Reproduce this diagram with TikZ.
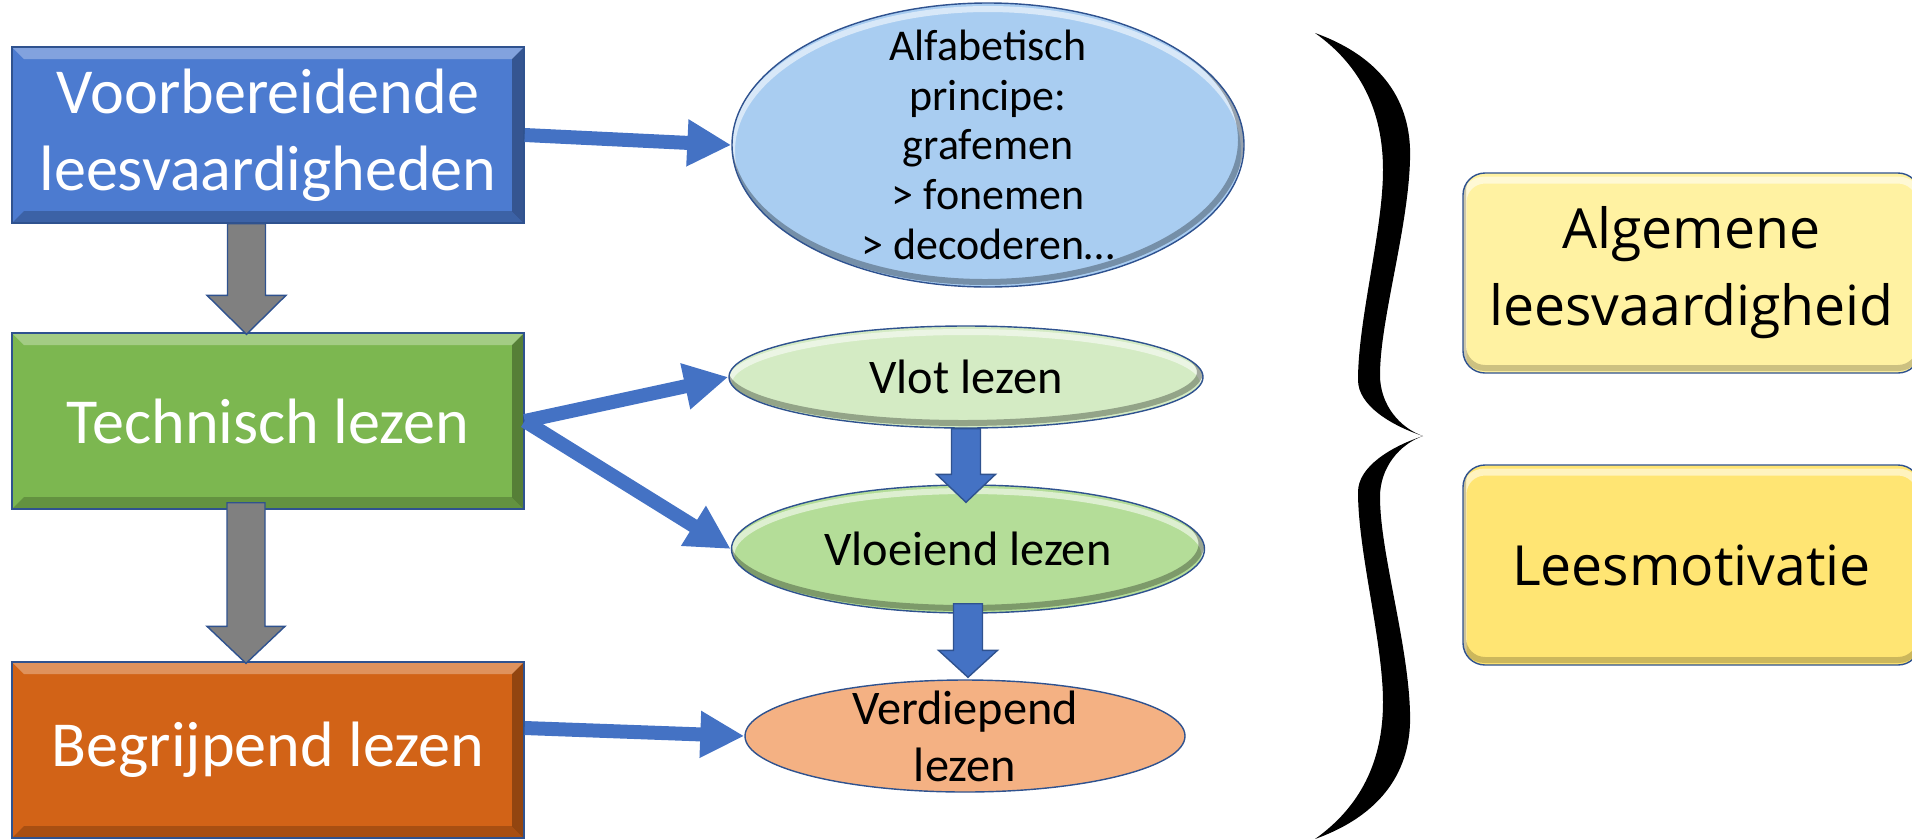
\documentclass[tikz,border=0pt]{standalone}
\usepackage{fontspec}
\setmainfont{Carlito}
\newfontfamily\motfont{Open Sans}
\usetikzlibrary{shapes.geometric,arrows.meta,calc}

\definecolor{edgeblue}{HTML}{2F528F}
\definecolor{linkblue}{HTML}{4472C4}
\definecolor{voorblue}{HTML}{4C7BD0}
\definecolor{techgreen}{HTML}{7CB750}
\definecolor{begrorange}{HTML}{D26317}
\definecolor{alfafill}{HTML}{A9CDF1}
\definecolor{vlotfill}{HTML}{D4EBC4}
\definecolor{vloeifill}{HTML}{B4DD98}
\definecolor{verdfill}{HTML}{F4B183}
\definecolor{algfill}{HTML}{FFF2A2}
\definecolor{motfill}{HTML}{FFE573}

% block arrow pointing down: style, from, to, half shaft, half head, head length
\newcommand{\blockarr}[6]{%
  \path[#1] let \p1=(#2), \p2=(#3) in
    (\x1-#4,\y1) -- (\x1-#4,\y2+#6) -- (\x1-#5,\y2+#6) -- (\x1,\y2)
    -- (\x1+#5,\y2+#6) -- (\x1+#4,\y2+#6) -- (\x1+#4,\y1) -- cycle;}
% several lines inside an oval, without growing the oval
\newcommand{\ovaltext}[2]{\smash{\raisebox{#1}{\begin{tabular}{@{}c@{}}#2\end{tabular}}}}

\begin{document}
\begin{tikzpicture}
    \tikzstyle{boxbevel}=[path picture={
      \fill[white,opacity=.3] (path picture bounding box.north west) -- (path picture bounding box.north east)
        -- ([shift={(-0.24,-0.24)}]path picture bounding box.north east) -- ([shift={(0.24,-0.24)}]path picture bounding box.north west) -- cycle;
      \fill[black,opacity=.3] (path picture bounding box.north east) -- (path picture bounding box.south east)
        -- ([shift={(-0.24,0.24)}]path picture bounding box.south east) -- ([shift={(-0.24,-0.24)}]path picture bounding box.north east) -- cycle;
      \fill[black,opacity=.2] (path picture bounding box.south west) -- ([shift={(0.24,0.24)}]path picture bounding box.south west)
        -- ([shift={(-0.24,0.24)}]path picture bounding box.south east) -- (path picture bounding box.south east) -- cycle;}]
    \tikzstyle{ovalgloss}=[path picture={
      \draw[white,opacity=.55,line width=0.12cm] let \p1=(path picture bounding box.south west), \p2=(path picture bounding box.north east) in
        ($(\p1)!.5!(\p2)+(0,-0.12)$) ellipse [x radius={(\x2-\x1)/2}, y radius={(\y2-\y1)/2}];
      \draw[black,opacity=.3,line width=0.12cm] let \p1=(path picture bounding box.south west), \p2=(path picture bounding box.north east) in
        ($(\p1)!.5!(\p2)+(-0.06,0.1)$) ellipse [x radius={(\x2-\x1)/2}, y radius={(\y2-\y1)/2}];}]
    \tikzstyle{goalgloss}=[path picture={
      \draw[white,opacity=.55,line width=0.14cm,rounded corners=0.44cm] ([yshift=-0.14cm]path picture bounding box.north west)
        rectangle ([yshift=-0.14cm]path picture bounding box.south east);
      \draw[black,opacity=.2,line width=0.12cm,rounded corners=0.44cm] ([yshift=0.1cm]path picture bounding box.north west)
        rectangle ([yshift=0.1cm]path picture bounding box.south east);}]
    \tikzstyle{stage}=[rectangle, draw=edgeblue, line width=0.8pt, minimum width=10.24cm, minimum height=3.52cm,
      text=white, align=center, font=\fontsize{36.5}{44}\selectfont, boxbevel]
    \tikzstyle{oval}=[ellipse, draw=edgeblue, line width=0.8pt, inner sep=0pt, font=\fontsize{27.5}{32.4}\selectfont];
    \tikzstyle{goal}=[rectangle, rounded corners=0.44cm, draw=edgeblue, line width=0.8pt, minimum width=9.14cm,
      minimum height=4cm, align=center, font=\motfont\fontsize{31.5}{43.7}\selectfont, goalgloss];
    \tikzstyle{link}=[draw=linkblue, line width=0.28cm, -{Triangle[length=0.88cm,width=0.88cm]}];
    \tikzstyle{grey arrow}=[fill=gray, draw=edgeblue, line width=0.8pt];
    \tikzstyle{blue arrow}=[fill=linkblue, draw=edgeblue, line width=0.8pt];

    \useasboundingbox (0,0) rectangle (38.24,-16.76);
    \clip (0,0) rectangle (38.24,-16.76);

    % left column
    \node[stage, fill=voorblue] (voor) at (5.36,-2.70) {Voorbereidende\\leesvaardigheden};
    \node[stage, fill=techgreen] (tech) at (5.36,-8.42) {Technisch lezen};
    \node[stage, fill=begrorange] (begr) at (5.36,-15.00) {Begrijpend lezen};

    % middle column
    \node[oval, ovalgloss, fill=alfafill, minimum width=10.24cm, minimum height=5.68cm, font=\fontsize{25}{28.2}\selectfont] (alfa) at (19.76,-2.90)
      {\ovaltext{-0.32cm}{Alfabetisch\\principe:\\grafemen\\> fonemen\\> decoderen…}};
    \node[oval, ovalgloss, fill=vlotfill, minimum width=9.48cm, minimum height=2.04cm] (vlot) at (19.32,-7.54) {Vlot lezen};
    \node[oval, ovalgloss, fill=vloeifill, minimum width=9.46cm, minimum height=2.56cm] (vloei) at (19.36,-10.98) {Vloeiend lezen};
    \node[oval, fill=verdfill, minimum width=8.8cm, minimum height=2.24cm] (verd) at (19.30,-14.72)
      {\ovaltext{-0.33cm}{Verdiepend\\lezen}};

    % right column
    \node[goal, fill=algfill] (alg) at (33.83,-5.46) {Algemene\\leesvaardigheid};
    \node[goal, fill=motfill] (mot) at (33.83,-11.30) {Leesmotivatie};

    % grey steps down
    \blockarr{grey arrow}{$(voor.south)+(-0.43,0)$}{$(tech.north)+(-0.43,-0.04)$}{0.38cm}{0.79cm}{0.78cm}
    \blockarr{grey arrow}{$(tech.south)+(-0.44,0.14)$}{$(begr.north)+(-0.44,-0.04)$}{0.38cm}{0.78cm}{0.74cm}

    % blue steps down
    \blockarr{blue arrow}{vlot.south}{$(vloei.north)+(0,-0.36)$}{0.29cm}{0.59cm}{0.56cm}
    \blockarr{blue arrow}{$(vloei.south)+(0,0.2)$}{$(verd.north)+(0,0.04)$}{0.29cm}{0.59cm}{0.54cm}

    \path (voor.east) edge [link] (alfa.west);
    \path (tech.east) edge [link] (vlot.west);
    \path (tech.east) edge [link] (vloei.west);
    \path ([yshift=0.44cm]begr.east) edge [link] (verd.west);

    % brace
    \fill[black] (26.30,-0.66) .. controls (27.80,-1.20) and (28.24,-2.20) .. (28.20,-3.20)
      .. controls (28.16,-4.60) and (27.60,-6.40) .. (27.60,-7.50)
      .. controls (27.60,-8.10) and (28.00,-8.56) .. (28.46,-8.72)
      .. controls (28.00,-8.88) and (27.60,-9.34) .. (27.60,-9.94)
      .. controls (27.60,-11.04) and (28.16,-12.84) .. (28.20,-14.24)
      .. controls (28.24,-15.24) and (27.80,-16.24) .. (26.30,-16.78)
      .. controls (27.20,-16.14) and (27.66,-15.24) .. (27.66,-14.04)
      .. controls (27.66,-12.84) and (27.16,-11.04) .. (27.16,-9.84)
      .. controls (27.16,-9.34) and (27.80,-8.94) .. (28.46,-8.72)
      .. controls (27.80,-8.50) and (27.16,-8.10) .. (27.16,-7.60)
      .. controls (27.16,-6.40) and (27.66,-4.60) .. (27.66,-3.40)
      .. controls (27.66,-2.20) and (27.20,-1.30) .. (26.30,-0.66) -- cycle;
\end{tikzpicture}
\end{document}
